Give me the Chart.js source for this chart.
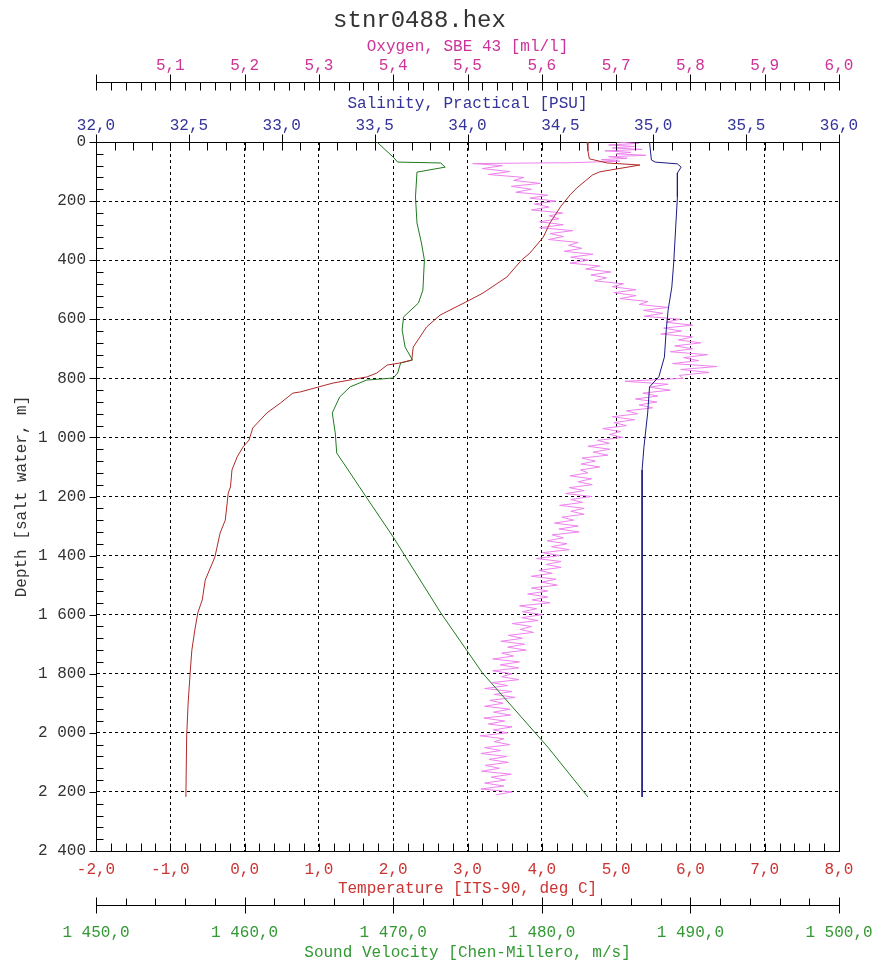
<!DOCTYPE html>
<html>
<head>
<meta charset="utf-8">
<title>stnr0488.hex</title>
<script src="https://cdn.jsdelivr.net/npm/chart.js@4.4.1/dist/chart.umd.min.js"></script>
<style>
    html, body { margin: 0; padding: 0; background: #fff; }
    canvas { display: block; }
</style>
</head>
<body>
<canvas id="profileChart" width="881" height="964"></canvas>
<script>
// Temperature [ITS-90, deg C] vs depth
const tempDepth = [0, 30, 57, 71, 78, 101, 112, 156, 179, 220, 274, 322, 376, 399, 457, 511, 535, 586, 626, 694,
    738, 748, 755, 782, 795, 816, 846, 850, 884, 917, 968, 1009, 1032, 1066, 1110, 1168, 1188, 1280, 1324, 1405,
    1483, 1550, 1594, 1652, 1720, 1787, 1899, 2014, 2217];
const tempValue = [4.61, 4.62, 4.64, 4.88, 5.32, 4.78, 4.68, 4.47, 4.38, 4.25, 4.11, 4.02, 3.84, 3.73, 3.53, 3.21, 3.03, 2.63, 2.45, 2.27,
    2.25, 2.09, 1.92, 1.78, 1.65, 1.19, 0.75, 0.65, 0.48, 0.30, 0.11, 0.06, -0.02, -0.10, -0.17, -0.19, -0.22, -0.26, -0.33, -0.40,
    -0.53, -0.57, -0.63, -0.67, -0.71, -0.73, -0.76, -0.78, -0.79];

// Salinity, Practical [PSU]
const salDepth = [0, 61, 68, 74, 85, 105, 186, 298, 410, 491, 569, 636, 728, 795, 829, 917, 1032, 1110, 1642, 2217];
const salValue = [34.98, 34.99, 35.01, 35.13, 35.15, 35.13, 35.13, 35.12, 35.11, 35.10, 35.08, 35.07, 35.06, 35.03, 34.98, 34.97, 34.95, 34.94, 34.94, 34.94];

// Sound Velocity [Chen-Millero, m/s]
const soundDepth = [0, 51, 68, 71, 85, 102, 186, 274, 342, 399, 501, 545, 592, 636, 694, 738, 748, 782, 799, 806,
    829, 863, 917, 985, 1053, 1120, 1188, 1337, 1594, 1797, 2048, 2217];
const soundValue = [1468.9, 1470.0, 1470.3, 1473.2, 1473.5, 1471.6, 1471.5, 1471.6, 1471.9, 1472.1, 1472.0, 1471.7, 1470.7, 1470.6, 1470.8, 1471.3, 1470.5, 1470.3, 1470.0, 1468.2,
    1467.1, 1466.4, 1465.9, 1466.1, 1466.2, 1467.1, 1468.0, 1470.0, 1473.2, 1476.0, 1480.4, 1483.1];

// Oxygen, SBE 43 [ml/l] (noisy trace)
const oxyDepth = [0, 5, 10, 15, 20, 25, 30, 35, 40, 45, 50, 55, 60, 65, 70, 73,
    80, 90, 100, 110, 120, 130, 140, 150, 160, 170, 180, 190, 200, 210, 220, 230, 240, 250, 260, 270,
    280, 290, 300, 310, 320, 330, 340, 350, 360, 370, 380, 390, 400, 410, 420, 430, 440, 450, 460, 470,
    480, 490, 500, 510, 520, 530, 540, 550, 560, 570, 580, 590, 600, 610, 620, 630, 640, 650, 660, 670,
    680, 690, 700, 710, 720, 730, 740, 750, 760, 770, 780, 790, 800, 810, 820, 830, 840, 850, 860, 870,
    880, 890, 900, 910, 920, 930, 940, 950, 960, 970, 980, 990, 1000, 1010, 1020, 1030, 1040, 1050, 1060, 1070,
    1080, 1090, 1100, 1110, 1120, 1130, 1140, 1150, 1160, 1170, 1180, 1190, 1200, 1210, 1220, 1230, 1240, 1250, 1260, 1270,
    1280, 1290, 1300, 1310, 1320, 1330, 1340, 1350, 1360, 1370, 1380, 1390, 1400, 1410, 1420, 1430, 1440, 1450, 1460, 1470,
    1480, 1490, 1500, 1510, 1520, 1530, 1540, 1550, 1560, 1570, 1580, 1590, 1600, 1610, 1620, 1630, 1640, 1650, 1660, 1670,
    1680, 1690, 1700, 1710, 1720, 1730, 1740, 1750, 1760, 1770, 1780, 1790, 1800, 1810, 1820, 1830, 1840, 1850, 1860, 1870,
    1880, 1890, 1900, 1910, 1920, 1930, 1940, 1950, 1960, 1970, 1980, 1990, 2000, 2010, 2020, 2030, 2040, 2050, 2060, 2070,
    2080, 2090, 2100, 2110, 2120, 2130, 2140, 2150, 2160, 2170, 2180, 2190, 2200, 2210];
const oxyValue = [5.700, 5.730, 5.690, 5.725, 5.695, 5.735, 5.685, 5.720, 5.700, 5.740, 5.690, 5.715, 5.680, 5.705, 5.640, 5.507,
    5.547, 5.520, 5.557, 5.528, 5.576, 5.562, 5.598, 5.559, 5.586, 5.565, 5.608, 5.584, 5.619, 5.590, 5.610, 5.586, 5.628, 5.610, 5.623, 5.597,
    5.629, 5.597, 5.642, 5.611, 5.629, 5.609, 5.649, 5.636, 5.654, 5.630, 5.669, 5.639, 5.663, 5.638, 5.678, 5.659, 5.693, 5.666, 5.687, 5.671,
    5.710, 5.695, 5.727, 5.697, 5.727, 5.705, 5.743, 5.731, 5.770, 5.737, 5.763, 5.738, 5.786, 5.767, 5.803, 5.764, 5.788, 5.760, 5.803, 5.784,
    5.814, 5.779, 5.803, 5.773, 5.823, 5.791, 5.811, 5.776, 5.836, 5.787, 5.825, 5.785, 5.790, 5.712, 5.770, 5.745, 5.773, 5.736, 5.756, 5.726,
    5.755, 5.731, 5.749, 5.714, 5.729, 5.695, 5.725, 5.697, 5.714, 5.682, 5.706, 5.691, 5.709, 5.675, 5.691, 5.662, 5.692, 5.669, 5.689, 5.654,
    5.672, 5.653, 5.678, 5.652, 5.662, 5.638, 5.667, 5.649, 5.668, 5.637, 5.657, 5.632, 5.667, 5.639, 5.655, 5.624, 5.657, 5.639, 5.657, 5.627,
    5.643, 5.617, 5.649, 5.623, 5.650, 5.614, 5.629, 5.607, 5.634, 5.613, 5.637, 5.601, 5.624, 5.593, 5.626, 5.606, 5.626, 5.596, 5.614, 5.586,
    5.619, 5.600, 5.621, 5.586, 5.608, 5.581, 5.608, 5.587, 5.611, 5.570, 5.593, 5.574, 5.601, 5.573, 5.595, 5.560, 5.586, 5.571, 5.589, 5.555,
    5.574, 5.545, 5.577, 5.554, 5.579, 5.546, 5.562, 5.534, 5.570, 5.544, 5.569, 5.534, 5.560, 5.546, 5.569, 5.533, 5.554, 5.523, 5.560, 5.536,
    5.564, 5.530, 5.548, 5.523, 5.557, 5.535, 5.558, 5.522, 5.550, 5.528, 5.560, 5.535, 5.554, 5.517, 5.549, 5.536, 5.557, 5.523, 5.545, 5.518,
    5.553, 5.529, 5.555, 5.524, 5.543, 5.519, 5.559, 5.532, 5.551, 5.523, 5.549, 5.518, 5.560, 5.538];

const MONO = '"Courier New", "Liberation Mono", monospace';
const axisFont = { family: MONO, size: 16 };

function isMajor(v, step) {
    const r = v / step;
    return Math.abs(r - Math.round(r)) < 1e-6;
}

// 1 450,0 style numbers (space thousands, comma decimals)
function fmt(v, decimals) {
    const parts = Math.abs(v).toFixed(decimals).split(".");
    const whole = parts[0].replace(/\B(?=(\d{3})+(?!\d))/g, " ");
    const sign = v < 0 && Math.abs(v) >= Math.pow(10, -decimals) / 2 ? "-" : "";
    return sign + whole + (decimals > 0 ? "," + parts[1] : "");
}

function toPoints(depths, values) {
    return depths.map((d, i) => ({ x: values[i], y: d }));
}

function fixedSize(size) {
    return function (scale) {
        if (scale.isHorizontal()) scale.height = size;
        else scale.width = size;
    };
}

// tick marks: offsets from the axis line (px), negative = up / left
const tickStyle = {
    oxygen: { major: 0.1, majorSpan: [-8, 8], minorSpan: [0, 8] },
    salinity: { major: 0.5, majorSpan: [-8, 8], minorSpan: [0, 8] },
    temperature: { major: 1, majorSpan: [-8, 0], minorSpan: [-8, 0] },
    sound: { major: 10, majorSpan: [-8, 8], minorSpan: [-7, 0] },
    y: { major: 200, majorSpan: [-7, 0], minorSpan: [0, 7] },
};

const tickMarks = {
    id: "tickMarks",
    afterDraw(chart) {
        const { ctx, chartArea } = chart;
        ctx.save();
        ctx.strokeStyle = "#000";
        ctx.lineWidth = 1;
        ctx.beginPath();
        Object.keys(tickStyle).forEach((id) => {
            const scale = chart.scales[id];
            const st = tickStyle[id];
            scale.ticks.forEach((t) => {
                const span = isMajor(t.value, st.major) ? st.majorSpan : st.minorSpan;
                const p = Math.round(scale.getPixelForValue(t.value)) + 0.5;
                if (scale.isHorizontal()) {
                    const base = Math.round(scale.position === "top" ? scale.bottom : scale.top) + 0.5;
                    ctx.moveTo(p, base + span[0]);
                    ctx.lineTo(p, base + span[1]);
                } else {
                    const base = Math.round(scale.right) + 0.5;
                    ctx.moveTo(base + span[0], p);
                    ctx.lineTo(base + span[1], p);
                }
            });
        });
        // right frame
        const xr = Math.round(chartArea.right) + 0.5;
        ctx.moveTo(xr, chartArea.top);
        ctx.lineTo(xr, chartArea.bottom);
        ctx.stroke();
        ctx.restore();
    },
};

function lineSet(label, depths, values, axis, color) {
    return {
        label: label,
        data: toPoints(depths, values),
        xAxisID: axis,
        yAxisID: "y",
        borderColor: color,
        backgroundColor: color,
        borderWidth: 1,
        showLine: true,
        pointRadius: 0,
        fill: false,
        tension: 0,
    };
}

function xAxis(opts) {
    return {
        type: "linear",
        position: opts.position,
        weight: opts.weight,
        min: opts.min,
        max: opts.max,
        afterFit: fixedSize(opts.height),
        ticks: {
            stepSize: opts.step,
            autoSkip: false,
            maxRotation: 0,
            minRotation: 0,
            padding: opts.padding,
            color: opts.color,
            font: axisFont,
            callback: (v) => (isMajor(v, opts.major) && !(opts.skipMin && v === opts.min) ? fmt(v, 1) : ""),
        },
        // invisible tick length only pushes the labels away from the axis line
        grid: opts.grid || {
            drawOnChartArea: false,
            drawTicks: true,
            tickLength: opts.tickGap || 0,
            tickColor: "rgba(0,0,0,0)",
        },
        border: { display: true, color: "#000", width: 1, dash: [3, 3] },
        title: {
            display: true,
            text: opts.title,
            color: opts.color,
            font: axisFont,
            padding: opts.titlePadding,
        },
    };
}

new Chart(document.getElementById("profileChart"), {
    type: "scatter",
    data: {
        datasets: [
            lineSet("Temperature", tempDepth, tempValue, "temperature", "#b02a2a"),
            lineSet("Salinity", salDepth, salValue, "salinity", "#1c1c84"),
            lineSet("Sound Velocity", soundDepth, soundValue, "sound", "#1f7a1f"),
            lineSet("Oxygen", oxyDepth, oxyValue, "oxygen", "#ee82ee"),
        ],
    },
    options: {
        responsive: false,
        animation: false,
        layout: { padding: { left: 0, right: 42, top: 0, bottom: 0 } },
        plugins: {
            legend: { display: false },
            tooltip: { enabled: false },
            title: {
                display: true,
                text: "stnr0488.hex",
                color: "#333",
                font: { family: MONO, size: 24, weight: "normal" },
                padding: { top: 6, bottom: 0 },
            },
        },
        scales: {
            oxygen: xAxis({
                position: "top", weight: 1, min: 5, max: 6, step: 0.02, major: 0.1, skipMin: true,
                height: 47.2, padding: 6.4, color: "#cc3399",
                title: "Oxygen, SBE 43 [ml/l]", titlePadding: { top: 2.6, bottom: 0 },
            }),
            salinity: xAxis({
                position: "top", weight: 0, min: 32, max: 36, step: 0.1, major: 0.5,
                height: 60, padding: 6.4, color: "#333399",
                title: "Salinity, Practical [PSU]", titlePadding: { top: 12.4, bottom: 0 },
            }),
            temperature: xAxis({
                position: "bottom", weight: 0, min: -2, max: 8, step: 0.2, major: 1,
                height: 54, padding: 9.4, color: "#cc3333",
                title: "Temperature [ITS-90, deg C]", titlePadding: { top: 0, bottom: 6.4 },
                grid: {
                    drawTicks: false,
                    lineWidth: 1,
                    color: (c) => (c.tick && isMajor(c.tick.value, 1) && c.tick.value > -2 && c.tick.value < 8 ? "#000" : "rgba(0,0,0,0)"),
                },
            }),
            sound: xAxis({
                position: "bottom", weight: 1, min: 1450, max: 1500, step: 2, major: 10,
                height: 59, padding: 6, tickGap: 12.4, color: "#339933",
                title: "Sound Velocity [Chen-Millero, m/s]", titlePadding: { top: 0, bottom: 1.4 },
            }),
            y: {
                type: "linear",
                position: "left",
                reverse: true,
                min: 0,
                max: 2400,
                afterFit: fixedSize(96),
                ticks: {
                    stepSize: 40,
                    autoSkip: false,
                    padding: 10,
                    color: "#333",
                    font: axisFont,
                    callback: (v) => (isMajor(v, 200) ? fmt(v, 0) : ""),
                },
                grid: {
                    drawTicks: false,
                    lineWidth: 1,
                    color: (c) => (c.tick && isMajor(c.tick.value, 200) && c.tick.value > 0 && c.tick.value < 2400 ? "#000" : "rgba(0,0,0,0)"),
                },
                border: { display: true, color: "#000", width: 1, dash: [3, 3] },
                title: {
                    display: true,
                    text: "Depth [salt water, m]",
                    color: "#333",
                    font: axisFont,
                    padding: { top: 12.4, bottom: 0 },
                },
            },
        },
    },
    plugins: [tickMarks],
});
</script>
</body>
</html>
